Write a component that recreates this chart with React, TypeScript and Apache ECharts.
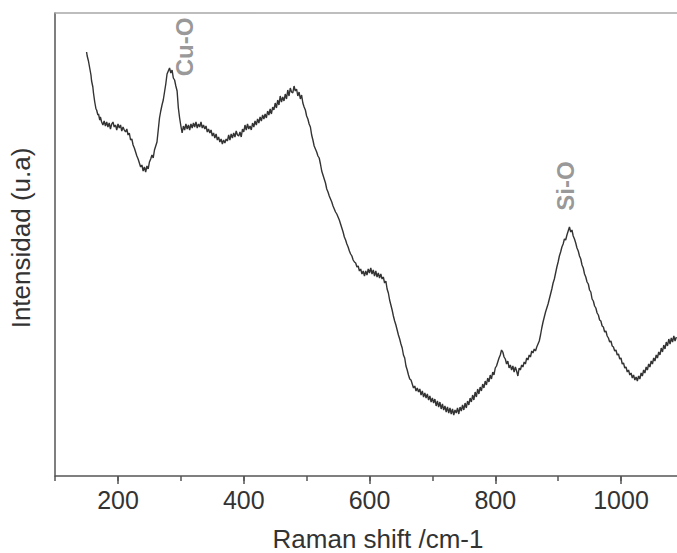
import React, { useEffect, useRef } from "react";
import * as echarts from "echarts";

// Raman spectrum: [Raman shift (cm-1), intensity (arbitrary units)]
const spectrum: [number, number][] = [
  [150,424],[151,420],[153,415],[155,408],[157,401],[158,395],[160,389],[161,383],[163,374],[165,367],[166,366],[168,361],[169,362],[171,356],[172,359],[174,354],[176,351],[178,355],[180,350],
  [182,354],[184,349],[186,353],[188,347],[190,352],[192,354],[194,349],[196,351],[198,346],[200,352],
  [202,348],[204,351],[206,345],[208,349],[210,346],[212,344],[214,347],[216,341],[218,343],[220,336],
  [222,337],[224,331],[226,328],[228,324],[230,320],[232,317],[234,313],[236,309],[238,311],[240,305],
  [242,309],[244,304],[246,310],[248,307],[250,314],[252,317],[254,321],[256,318],[258,326],[260,330],
  [262,334],[264,346],[266,358],[268,365],[270,371],[272,376],[274,384],[276,392],[278,402],[280,405],
  [282,408],[284,403],[286,406],[288,398],[290,396],[292,390],[294,385],[296,368],[298,358],[300,350],
  [302,343],[304,350],[306,346],[308,352],[310,347],[312,351],[314,346],[316,352],[318,348],[320,353],
  [322,349],[324,354],[326,348],[328,352],[330,349],[332,354],[334,348],[336,351],[338,347],[340,350],
  [342,344],[344,347],[346,343],[348,346],[350,340],[352,343],[354,338],[356,342],[358,336],[360,339],
  [362,334],[364,337],[366,332],[368,336],[370,333],[372,337],[374,335],[376,341],[378,336],[380,342],
  [382,338],[384,343],[386,339],[388,345],[390,341],[392,340],[394,344],[396,339],[398,347],[400,344],
  [402,351],[404,346],[406,352],[408,347],[410,350],[412,346],[414,353],[416,349],[418,355],[420,351],
  [422,357],[424,353],[426,359],[428,355],[430,361],[432,357],[434,362],[436,358],[438,365],[440,361],
  [442,367],[444,362],[446,369],[448,366],[450,373],[452,368],[454,376],[456,371],[458,380],[460,374],
  [462,379],[464,375],[466,382],[468,377],[470,386],[472,380],[474,388],[476,384],[478,383],[480,390],
  [482,385],[484,387],[486,380],[488,384],[490,377],[492,381],[494,373],[496,369],[498,366],[500,360],
  [502,357],[504,352],[506,349],[508,341],[510,336],[512,330],[514,327],[516,324],[518,320],[520,318],
  [522,312],[524,305],[526,301],[528,297],[530,293],[532,287],[534,284],[536,280],[538,277],[540,274],
  [542,270],[544,267],[546,264],[548,262],[550,259],[552,256],[554,252],[556,248],[558,244],[560,239],
  [562,236],[564,232],[566,229],[568,225],[570,222],[572,220],[574,216],[576,214],[578,213],[580,209],
  [582,210],[584,205],[586,207],[588,202],[590,205],[592,200],[594,205],[596,201],[598,207],[600,203],
  [602,208],[604,202],[606,206],[608,200],[610,205],[612,199],[614,203],[616,198],[618,202],[620,197],
  [622,199],[624,193],[626,195],[628,187],[630,183],[632,176],[634,171],[636,166],[638,160],[640,155],
  [642,151],[644,146],[646,141],[648,137],[650,132],[652,128],[654,121],[656,118],[658,110],[660,106],
  [662,101],[664,97],[666,96],[668,92],[670,88],[672,90],[674,85],[676,88],[678,84],[680,87],
  [682,81],[684,85],[686,79],[688,83],[690,78],[692,82],[694,76],[696,80],[698,74],[700,78],
  [702,73],[704,77],[706,70],[708,75],[710,69],[712,74],[714,67],[716,72],[718,66],[720,70],
  [722,64],[724,69],[726,63],[728,68],[730,62],[732,67],[734,61],[736,66],[738,63],[740,68],
  [742,62],[744,69],[746,65],[748,71],[750,66],[752,73],[754,68],[756,75],[758,71],[760,78],
  [762,74],[764,81],[766,76],[768,84],[770,79],[772,87],[774,82],[776,89],[778,85],[780,92],
  [782,88],[784,95],[786,91],[788,98],[790,94],[792,101],[794,97],[796,104],[798,101],[800,108],
  [802,110],[804,114],[806,118],[808,121],[810,126],[812,124],[814,119],[816,117],[818,112],[820,115],
  [822,108],[824,111],[826,106],[828,110],[830,104],[832,109],[834,105],[836,100],[838,108],[840,106],
  [842,111],[844,109],[846,114],[848,112],[850,118],[852,116],[854,121],[856,119],[858,125],[860,123],
  [862,127],[864,125],[866,129],[868,132],[870,135],[872,141],[874,148],[876,154],[878,159],[880,164],
  [882,168],[884,172],[886,177],[888,182],[890,187],[892,193],[894,197],[896,203],[898,209],[900,214],
  [902,220],[904,224],[906,229],[908,232],[910,237],[912,236],[914,241],[916,245],[918,249],[920,244],
  [922,246],[924,240],[926,237],[928,233],[930,228],[932,225],[934,220],[936,217],[938,211],[940,208],
  [942,202],[944,199],[946,194],[948,192],[950,186],[952,184],[954,177],[956,175],[958,170],[960,168],
  [962,163],[964,161],[966,156],[968,155],[970,150],[972,149],[974,144],[976,145],[978,140],[980,138],
  [982,134],[984,135],[986,130],[988,129],[990,125],[992,126],[994,121],[996,122],[998,117],[1000,118],
  [1002,112],[1004,113],[1006,108],[1008,109],[1010,104],[1012,106],[1014,101],[1016,103],[1018,98],[1020,101],
  [1022,96],[1024,99],[1026,95],[1028,100],[1030,97],[1032,103],[1034,100],[1036,106],[1038,103],[1040,109],
  [1042,106],[1044,112],[1046,109],[1048,115],[1050,112],[1052,118],[1054,115],[1056,121],[1058,118],[1060,124],
  [1062,121],[1064,128],[1066,124],[1068,131],[1070,127],[1072,134],[1074,130],[1076,137],[1078,132],[1080,138],
  [1082,134],[1084,140],[1086,135],[1088,139],
];

// Peak annotations: [Raman shift, intensity, label]
const peakLabels: [number, number, string][] = [
  [306, 429, "Cu-O"],
  [912, 290, "Si-O"],
];

const xMin = 100;
const xMax = 1100;
const xLabelTicks = [200, 400, 600, 800, 1000];
const yMin = 0;
const yMax = 463;

const xTitle = "Raman shift /cm-1";
const yTitle = "Intensidad (u.a)";

const FONT = "'Liberation Sans', Arial, Helvetica, sans-serif";

export default function App() {
  const ref = useRef<HTMLDivElement>(null);

  useEffect(() => {
    if (!ref.current) return;
    const chart = echarts.init(ref.current, undefined, { renderer: "svg" });
    const option: any = {
      animation: false,
      backgroundColor: "#ffffff",
      textStyle: { fontFamily: FONT },
      grid: [
        { left: 55.125, right: -6.875, top: 13, bottom: 77, outerBoundsMode: "none", containLabel: false },
        { left: -7.75, right: -6.875, top: 13, bottom: 77, outerBoundsMode: "none", containLabel: false },
      ],
      xAxis: [
        {
          gridIndex: 0,
          type: "value",
          min: xMin,
          max: xMax,
          interval: 100,
          position: "bottom",
          axisLine: { show: true, lineStyle: { color: "#555555", width: 1.5 } },
          axisTick: { show: true, length: 5, lineStyle: { color: "#555555", width: 1.5 } },
          axisLabel: { show: false },
          splitLine: { show: false },
        },
        {
          gridIndex: 0,
          type: "value",
          min: xMin,
          max: xMax,
          position: "top",
          axisLine: { show: true, lineStyle: { color: "#a8a8a8", width: 1.5 } },
          axisTick: { show: false },
          axisLabel: { show: false },
          splitLine: { show: false },
        },
        {
          gridIndex: 1,
          type: "value",
          min: 0,
          max: xMax,
          interval: 200,
          position: "bottom",
          axisLine: { show: false },
          axisTick: { show: true, length: 8, lineStyle: { color: "#555555", width: 1.5 } },
          axisLabel: {
            show: true,
            fontSize: 25,
            color: "#333333",
            margin: 11,
            fontFamily: FONT,
            formatter: (v: number) => (xLabelTicks.indexOf(v) >= 0 ? String(v) : ""),
          },
          splitLine: { show: false },
        },
      ],
      yAxis: [
        {
          gridIndex: 0,
          type: "value",
          min: yMin,
          max: yMax,
          axisLine: { show: true, lineStyle: { color: "#555555", width: 1.5 } },
          axisTick: { show: false },
          axisLabel: { show: false },
          splitLine: { show: false },
        },
        {
          gridIndex: 1,
          type: "value",
          min: yMin,
          max: yMax,
          show: false,
        },
      ],
      series: [
        {
          type: "line",
          xAxisIndex: 0,
          yAxisIndex: 0,
          data: spectrum,
          showSymbol: false,
          symbol: "none",
          lineStyle: { color: "#333333", width: 1.4 },
        },
        {
          type: "scatter",
          xAxisIndex: 0,
          yAxisIndex: 0,
          data: peakLabels,
          symbolSize: 0,
          label: {
            show: true,
            position: "inside",
            rotate: 90,
            fontSize: 24,
            fontWeight: "bold",
            color: "#7d7d7d",
            fontFamily: FONT,
            formatter: (p: any) => p.data[2],
          },
        },
      ],
      graphic: [
        {
          type: "text",
          x: 378,
          y: 539,
          style: {
            text: xTitle,
            fontSize: 26,
            fontFamily: FONT,
            fill: "#333333",
            textAlign: "center",
            textVerticalAlign: "middle",
          },
        },
        {
          type: "text",
          x: 21,
          y: 238,
          rotation: Math.PI / 2,
          style: {
            text: yTitle,
            fontSize: 26,
            fontFamily: FONT,
            fill: "#333333",
            textAlign: "center",
            textVerticalAlign: "middle",
          },
        },
      ],
    };
    chart.setOption(option);
    return () => chart.dispose();
  }, []);

  return (
    <div
      ref={ref}
      style={{ position: "absolute", left: 0, top: 0, width: 677, height: 553 }}
    />
  );
}
